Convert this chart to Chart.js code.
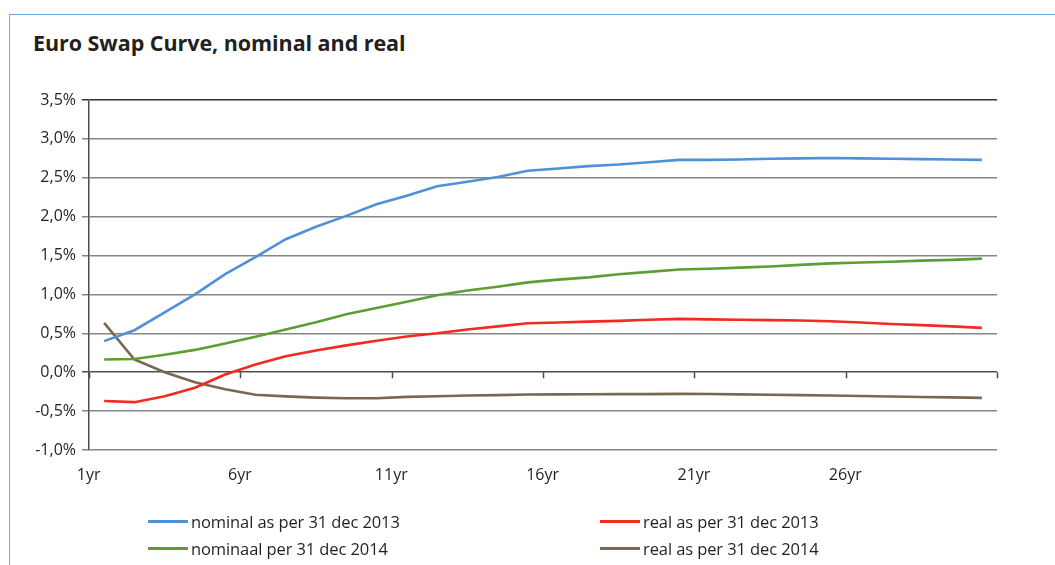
<!DOCTYPE html>
<html>
<head>
<meta charset="utf-8">
<script src="https://cdn.jsdelivr.net/npm/chart.js@4/dist/chart.umd.min.js"></script>
<style>
  html, body { margin: 0; padding: 0; background: #fff; }
  #wrap { position: relative; width: 1055px; height: 565px; overflow: hidden; }
  #frame { position: absolute; left: 9px; top: 14px; right: -4px; bottom: -4px;
           border-top: 1.5px solid #6fa6dc; border-left: 1.5px solid #6fa6dc; }
  #title { position: absolute; left: 33px; top: 28px; font: bold 21.5px "Open Sans", sans-serif;
           color: #231f20; letter-spacing: -0.05px; white-space: nowrap; }
  #chart { position: absolute; left: 0; top: 0; }
  .lg { position: absolute; font: 16.5px "Open Sans", sans-serif; color: #231f20;
        white-space: nowrap; display: flex; align-items: center; letter-spacing: -0.1px; }
  .lg i { display: inline-block; width: 40px; height: 3px; margin-right: 3px; }
</style>
</head>
<body>
<div id="wrap">
  <div id="frame"></div>
  <div id="title">Euro Swap Curve, nominal and real</div>
  <canvas id="chart" width="1055" height="565"></canvas>
  <div id="legend"></div>
</div>
<script>
// Tenors on the curve
const tenors = ['1yr','2yr','3yr','4yr','5yr','6yr','7yr','8yr','9yr','10yr',
                '11yr','12yr','13yr','14yr','15yr','16yr','17yr','18yr','19yr','20yr',
                '21yr','22yr','23yr','24yr','25yr','26yr','27yr','28yr','29yr','30yr'];

// Swap rates in %
const nominal2013 = [0.40, 0.54, 0.77, 1.00, 1.26, 1.48, 1.71, 1.87, 2.01, 2.16,
                     2.27, 2.39, 2.45, 2.51, 2.59, 2.62, 2.65, 2.67, 2.70, 2.73,
                     2.73, 2.735, 2.745, 2.75, 2.755, 2.75, 2.745, 2.74, 2.735, 2.73];
const real2013 = [-0.37, -0.385, -0.31, -0.20, -0.03, 0.10, 0.205, 0.28, 0.345, 0.405,
                  0.46, 0.50, 0.55, 0.59, 0.63, 0.64, 0.65, 0.66, 0.675, 0.686,
                  0.68, 0.675, 0.67, 0.665, 0.656, 0.64, 0.62, 0.605, 0.59, 0.57];
const nominal2014 = [0.163, 0.17, 0.225, 0.287, 0.37, 0.455, 0.55, 0.643, 0.745, 0.827,
                     0.905, 0.99, 1.05, 1.10, 1.155, 1.19, 1.22, 1.26, 1.29, 1.32,
                     1.33, 1.345, 1.36, 1.38, 1.40, 1.41, 1.42, 1.435, 1.445, 1.46];
const real2014 = [0.634, 0.163, 0.0, -0.13, -0.22, -0.29, -0.31, -0.326, -0.334, -0.334,
                  -0.317, -0.309, -0.30, -0.294, -0.287, -0.285, -0.284, -0.282, -0.281, -0.279,
                  -0.28, -0.285, -0.29, -0.295, -0.30, -0.306, -0.312, -0.318, -0.324, -0.33];

// Y axis range and step (%)
const yMin = -1.0, yMax = 3.5, yStep = 0.5;
// Every fifth tenor is labelled
const labelEvery = 5;

const series = [
  { label: 'nominal as per 31 dec 2013', data: nominal2013, color: '#4f91d6', legend: [148, 521] },
  { label: 'real as per 31 dec 2013',    data: real2013,    color: '#f22a1f', legend: [600, 521] },
  { label: 'nominaal per 31 dec 2014',   data: nominal2014, color: '#5c9e31', legend: [148, 548] },
  { label: 'real as per 31 dec 2014',    data: real2014,    color: '#7a6752', legend: [600, 548] }
];

const fontFam = '"Open Sans", sans-serif';
const textColor = '#231f20';

// Tick marks on the zero line at every fifth category boundary
const zeroTicks = {
  id: 'zeroTicks',
  afterDraw(chart) {
    const x = chart.scales.x, y = chart.scales.y, ctx = chart.ctx;
    const y0 = y.getPixelForValue(0);
    const w = (x.right - x.left) / tenors.length;
    ctx.save();
    ctx.strokeStyle = '#4d4d4d';
    ctx.lineWidth = 1.5;
    ctx.beginPath();
    for (let k = 0; k <= tenors.length; k += labelEvery) {
      const px = Math.round(x.left + k * w) + 0.5;
      ctx.moveTo(px, y0);
      ctx.lineTo(px, y0 + 6);
    }
    ctx.stroke();
    ctx.restore();
  }
};

new Chart(document.getElementById('chart'), {
  type: 'line',
  data: {
    labels: tenors,
    datasets: series.map(s => ({
      label: s.label,
      data: s.data,
      borderColor: s.color,
      backgroundColor: s.color,
      borderWidth: 2.6,
      pointRadius: 0,
      tension: 0,
      fill: false
    }))
  },
  options: {
    responsive: false,
    animation: false,
    events: [],
    layout: { padding: { left: 0, right: 58, top: 100, bottom: 0 } },
    plugins: { legend: { display: false }, title: { display: false }, tooltip: { enabled: false } },
    scales: {
      x: {
        type: 'category',
        offset: true,
        grid: { display: false, drawTicks: false },
        border: { display: false },
        afterFit(scale) { scale.height = 115; },
        ticks: {
          autoSkip: false,
          maxRotation: 0,
          padding: 16,
          labelOffset: -15.5,
          color: textColor,
          font: { family: fontFam, size: 16 },
          callback(v, i) { return i % labelEvery === 0 ? tenors[i] : ''; }
        }
      },
      y: {
        min: yMin,
        max: yMax,
        afterFit(scale) { scale.width = 89; },
        border: { display: true, color: '#4d4d4d', width: 1.5 },
        grid: {
          drawTicks: true,
          tickLength: 7,
          lineWidth: 1.5,
          color(ctx) {
            const v = ctx.tick && ctx.tick.value;
            if (v === 0) return '#4d4d4d';
            if (v === yMax) return '#333333';
            return '#858585';
          }
        },
        ticks: {
          stepSize: yStep,
          padding: 6,
          color: textColor,
          font: { family: fontFam, size: 16 },
          callback(v) { return v.toFixed(1).replace('.', ',') + '%'; }
        }
      }
    }
  },
  plugins: [zeroTicks]
});

// Two-column legend
const lg = document.getElementById('legend');
series.forEach(s => {
  const d = document.createElement('div');
  d.className = 'lg';
  d.style.left = s.legend[0] + 'px';
  d.style.top = (s.legend[1] - 11) + 'px';
  d.style.height = '22px';
  const sw = document.createElement('i');
  sw.style.background = s.color;
  d.appendChild(sw);
  d.appendChild(document.createTextNode(s.label));
  lg.appendChild(d);
});
</script>
</body>
</html>
